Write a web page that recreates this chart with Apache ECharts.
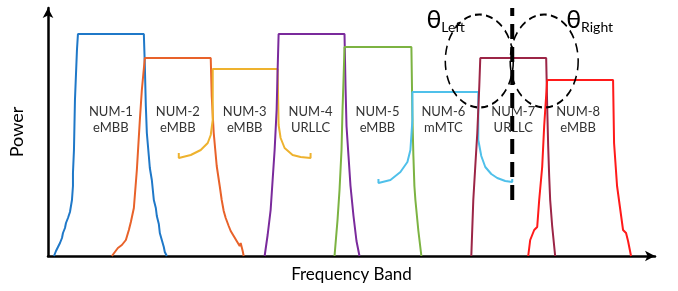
<!DOCTYPE html>
<html lang="en">
<head>
    <meta charset="UTF-8">
    <title>Numerologies</title>
</head>
<body style="margin:0;background:#fff;">
<div id="chartBox" style="width: 678px;height: 291px;"></div>
<script type="text/javascript" src="https://cdn.jsdelivr.net/npm/echarts@6/dist/echarts.min.js"></script>
<script type="text/javascript">
    // [frequency, power], arbitrary units
    var num1 = [[6,0],[8,5],[10,9],[12,13],[14,18],[15,23],[17,28],[18,33],[20,38],[22,44],[23,50],[24,56],[25,70],[25,83],[26,106],[27,156],[29,206],[30,222],
        [96,222],[97,190],[98,150],[99,123],[101,100],[102,88],[104,76],[105,66],[106,56],[108,48],[109,40],[111,32],[112,23],[114,16],[116,9],[117,4],[119,0]];
    var num2 = [[64,0],[67,4],[70,8],[74,11],[78,16],[81,26],[83,34],[86,48],[89,86],[92,136],[94,166],[97,198],
        [163,198],[164,160],[166,123],[169,90],[172,70],[174,56],[176,45],[178,38],[181,30],[183,25],[186,20],[189,15],[192,10],[193,13],[195,5],[196,0]];
    var num3 = [[131,103],[131,98],[143,101],[153,106],[160,113],[163,121],[165,136],[165,187],
        [230,187],[231,131],[233,118],[237,108],[245,101],[253,99],[263,98],[263,103]];
    var num4 = [[217,0],[220,21],[223,46],[225,76],[227,106],[229,146],[230,186],[231,222],
        [297,222],[298,170],[299,130],[301,100],[303,70],[306,40],[309,15],[312,0]];
    var num5 = [[287,0],[290,36],[292,66],[294,106],[295,146],[296,176],[297,209],
        [364,209],[365,140],[366,100],[367,70],[368,56],[371,25],[374,0]];
    var num6 = [[331,77],[331,73],[343,76],[353,84],[360,94],[363,106],[365,136],[365,164],
        [431,164],[431,116],[434,100],[438,89],[444,82],[450,78],[458,75],[465,74],[465,77]];
    var num7 = [[424,0],[426,56],[428,90],[430,123],[432,170],[433,198],
        [499,198],[500,150],[501,110],[502,80],[503,56],[505,30],[508,0]];
    var num8 = [[481,0],[483,16],[487,26],[490,29],[492,56],[495,89],[497,130],[500,176],
        [566,176],[567,113],[570,70],[576,26],[579,23],[581,15],[584,0]];

    var spectra = [num1, num2, num3, num4, num5, num6, num7, num8];
    var colors = ['#1f78c8', '#e8622a', '#eeb22e', '#7a2a9c', '#7cb342', '#4fc0ea', '#9c2546', '#ff1a1a'];

    var numNames = ['NUM-1', 'NUM-2', 'NUM-3', 'NUM-4', 'NUM-5', 'NUM-6', 'NUM-7', 'NUM-8'];
    var services = ['eMBB', 'eMBB', 'eMBB', 'URLLC', 'eMBB', 'mMTC', 'URLLC', 'eMBB'];
    var labelFreq = [63, 130, 197, 263, 330, 396, 466, 531];
    var labelPower = 136;

    var cutLine = [[465, 56], [465, 248]];
    var beamCenters = [[432, 195], [497, 195]];
    var thetaNames = ['Left', 'Right'];
    var thetaPos = [[374, 236], [514, 236]];

    var myChart = echarts.init(document.getElementById("chartBox"));

    var series = [];
    spectra.forEach(function (d, i) {
        series.push({
            type: 'line',
            data: d,
            showSymbol: false,
            lineStyle: {color: colors[i], width: 2},
            z: 2
        });
    });

    series.push({
        type: 'scatter',
        data: labelFreq.map(function (f, i) { return [f, labelPower, numNames[i] + '\n' + services[i]]; }),
        symbolSize: 0,
        itemStyle: {opacity: 1},
        label: {
            show: true,
            position: 'inside',
            formatter: function (p) { return p.data[2]; },
            fontFamily: 'Lato',
            fontSize: 13,
            lineHeight: 16,
            color: '#333'
        },
        z: 3
    });

    series.push({
        type: 'line',
        data: cutLine,
        showSymbol: false,
        lineStyle: {color: '#000', width: 4, type: [15, 8]},
        z: 5
    });

    series.push({
        type: 'scatter',
        data: beamCenters,
        symbol: 'circle',
        symbolSize: [68, 93],
        itemStyle: {opacity: 1, color: 'rgba(0,0,0,0)', borderColor: '#000', borderWidth: 1.8, borderType: [8, 5]},
        z: 4
    });

    series.push({
        type: 'scatter',
        data: thetaPos.map(function (p, i) { return [p[0], p[1], thetaNames[i]]; }),
        symbolSize: 0,
        itemStyle: {opacity: 1},
        label: {
            show: true,
            position: 'right',
            formatter: function (p) { return '{t|θ}{s|' + p.data[2] + '}'; },
            rich: {
                t: {fontFamily: 'Lato', fontSize: 25, color: '#000'},
                s: {fontFamily: 'Lato', fontSize: 14, color: '#000', padding: [14, 0, 0, 0]}
            }
        },
        z: 6
    });

    myChart.setOption({
        animation: false,
        grid: {left: 47, right: 23, top: 8, bottom: 35},
        xAxis: {
            type: 'value',
            min: 0,
            max: 608,
            name: 'Frequency Band',
            nameLocation: 'middle',
            nameGap: 10,
            nameTextStyle: {fontFamily: 'Lato', fontSize: 17, color: '#000', verticalAlign: 'top'},
            axisLine: {lineStyle: {color: '#000', width: 2.5}, symbol: ['none', 'arrow'], symbolSize: [8, 10]},
            axisTick: {show: false},
            axisLabel: {show: false},
            splitLine: {show: false}
        },
        yAxis: {
            type: 'value',
            min: 0,
            max: 248,
            name: 'Power',
            nameLocation: 'middle',
            nameGap: 22,
            nameRotate: 90,
            nameTextStyle: {fontFamily: 'Lato', fontSize: 18, color: '#000'},
            axisLine: {show: true, lineStyle: {color: '#000', width: 2.5}, symbol: ['none', 'arrow'], symbolSize: [8, 10]},
            axisTick: {show: false},
            axisLabel: {show: false},
            splitLine: {show: false}
        },
        series: series
    });
</script>
</body>
</html>
